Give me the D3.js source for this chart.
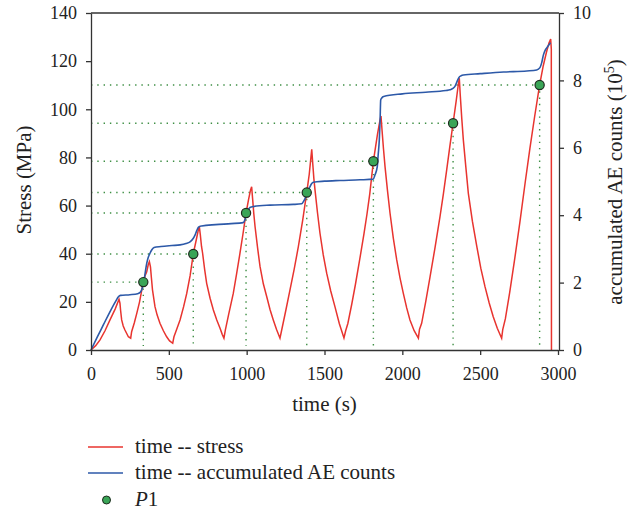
<!DOCTYPE html>
<html>
<head>
<meta charset="utf-8">
<script src="https://cdn.jsdelivr.net/npm/d3@7"></script>
<style>
  body { margin: 0; background: #fff; }
  svg { display: block; font-family: "Liberation Serif", "Times New Roman", serif; }
  .axis path, .axis line { stroke: #333; stroke-width: 1.3; }
  .axis text { font-family: "Liberation Serif", serif; font-size: 18px; fill: #222; }
  .label { font-family: "Liberation Serif", serif; font-size: 21px; fill: #222; }
</style>
</head>
<body>
<div id="chart"></div>
<script>
      var w = 634;
      var h = 513;

      // time (s) and stress (MPa) of the red curve
      var stressTime = [0,30,58,90,122,155,180,186,190,197,207,218,240,255,261,278,294,312,326,336,348,358,368,375,382,388,395,411,425,443,465,486,505,525,533,
        550,572,595,615,637,657,677,690,696,702,710,717,730,743,765,786,808,829,843,854,863,
        885,914,935,957,977,996,1012,1025,1032,1038,1046,1054,1070,1086,1107,1129,1150,1171,1192,1214,1225,
        1250,1278,1305,1332,1360,1386,1402,1412,1418,1425,1432,1439,1455,1471,1492,1514,1540,1567,1595,1625,1636,
        1650,1675,1698,1726,1754,1773,1791,1814,1840,1855,1863,1870,1879,1889,1905,1921,1942,1964,1985,2006,2028,2049,2076,2103,2110,
        2124,2150,2178,2210,2242,2264,2285,2305,2326,2346,2360,2366,2372,2382,2392,2408,2424,2450,2478,2504,2531,2558,2584,2610,2638,2645,
        2662,2690,2720,2755,2790,2820,2850,2882,2905,2925,2942,2953,2957,2958];
      var stressValue = [0,1.8,4.2,8,12.5,17,21.1,19.5,16.5,12.5,10,8.3,5.5,4.9,7.6,11.2,15.2,20,24.9,28.2,31,32.5,35.5,36.7,34.5,30,25,18,14.5,11.1,8,5.5,3.8,2.8,5.5,
        8.5,12.5,18,23.5,31,39.9,46,50,51.2,48,43,40.2,33.5,27.7,21.5,16.6,12.5,9,6.5,4.9,8.3,
        15,23.5,31.5,40.2,48.5,56.9,62.5,66.5,67.8,63,56.5,51.2,42.5,34.6,27.5,22.1,16.8,12.5,8.5,4.9,8.3,
        16,24.9,33.5,42.9,54,65.5,73,79.5,83.4,77,71,66.5,57,48.5,39.5,31.9,24.5,18,11,5,8,
        11,19,27,37.5,48.5,56.5,65,78.4,89.5,95,97.2,91,83.5,76.1,66,56.8,46.5,37.4,30,23.6,17.5,12.5,8,4.9,8.5,
        11.1,20,30.4,42.5,55.4,65,74.8,84.5,94.2,103.5,110.5,112.9,106,96,87.2,76,65.1,53.5,43.2,34,26.3,19.5,13.8,9,4.9,8.5,
        13,24,37,53,70,84,97,110.1,118,123.5,127.5,129.2,125,0];

      // time (s) and accumulated AE counts (10^5) of the blue curve
      var aeTime = [0,40,80,120,160,176,190,250,300,318,330,340,350,358,368,379,392,405,450,520,572,610,636,655,668,680,690,700,711,800,900,978,990,1000,1010,1021,1044,1150,1300,1353,1370,1386,1397,1407,1418,1428,1500,1600,1728,1813,1824,1839,1845,1852,1857,1861,1868,1880,2000,2150,2280,2306,2325,2338,2350,2364,2378,2392,2500,2650,2800,2863,2884,2895,2906,2918,2930,2942,2952];
      var aeCount = [0,0.38,0.75,1.12,1.46,1.58,1.62,1.64,1.67,1.72,1.85,2.05,2.35,2.57,2.75,2.87,2.98,3.04,3.07,3.1,3.12,3.16,3.21,3.3,3.41,3.55,3.64,3.67,3.68,3.72,3.75,3.78,3.88,4.06,4.16,4.23,4.26,4.3,4.32,4.34,4.45,4.6,4.75,4.85,4.94,4.98,5.01,5.03,5.05,5.07,5.19,5.44,5.8,6.23,6.8,7.42,7.48,7.52,7.6,7.65,7.7,7.72,7.76,7.82,7.95,8.09,8.14,8.16,8.2,8.25,8.28,8.31,8.38,8.52,8.75,8.9,8.98,9.06,9.12];

      // P1 points
      var p1Time = [336, 657, 996, 1386, 1814, 2326, 2882];
      var p1Stress = [28.2, 39.9, 56.9, 65.4, 78.4, 94.2, 110.1];

      var timeTicks = [0, 500, 1000, 1500, 2000, 2500, 3000];
      var stressTicks = [0, 20, 40, 60, 80, 100, 120, 140];
      var aeTicks = [0, 2, 4, 6, 8, 10];

      var redData = stressTime.map(function(t, i) { return {t: t, v: stressValue[i]}; });
      var blueData = aeTime.map(function(t, i) { return {t: t, v: aeCount[i]}; });
      var p1Data = p1Time.map(function(t, i) { return {t: t, v: p1Stress[i]}; });

      var padLeft = 91, padRight = 558, padTop = 13, padBottom = 350;

      var xScale = d3.scaleLinear().domain([0, 3000]).range([padLeft, padRight]);
      var yScale = d3.scaleLinear().domain([0, 140]).range([padBottom, padTop]);
      var aScale = d3.scaleLinear().domain([0, 10]).range([padBottom, padTop]);

      var svg = d3.select("#chart")
            .append("svg")
            .attr("width", w)
            .attr("height", h);

      // top frame
      svg.append("line")
        .attr("x1", padLeft).attr("x2", padRight + 1)
        .attr("y1", padTop).attr("y2", padTop)
        .style("stroke", "#333").style("stroke-width", 1.3);

      // dotted guides for P1
      var guideColor = "#3f8f45";
      svg.selectAll(".hguide")
        .data(p1Data)
        .enter().append("line")
        .attr("class", "hguide")
        .attr("x1", padLeft)
        .attr("x2", function(d) { return xScale(d.t); })
        .attr("y1", function(d) { return yScale(d.v); })
        .attr("y2", function(d) { return yScale(d.v); })
        .style("stroke", guideColor)
        .style("stroke-width", 1.4)
        .style("stroke-dasharray", "1.4,4.9");

      svg.selectAll(".vguide")
        .data(p1Data)
        .enter().append("line")
        .attr("class", "vguide")
        .attr("x1", function(d) { return xScale(d.t); })
        .attr("x2", function(d) { return xScale(d.t); })
        .attr("y1", function(d) { return yScale(d.v); })
        .attr("y2", padBottom - 4)
        .style("stroke", guideColor)
        .style("stroke-width", 1.4)
        .style("stroke-dasharray", "1.4,4.9");

      var redLine = d3.line()
        .x(function(d) { return xScale(d.t); })
        .y(function(d) { return yScale(d.v); });

      var blueLine = d3.line()
        .x(function(d) { return xScale(d.t); })
        .y(function(d) { return aScale(d.v); })
        .curve(d3.curveMonotoneX);

      svg.append("path")
        .datum(redData)
        .attr("d", redLine)
        .style("fill", "none")
        .style("stroke", "#e8342f")
        .style("stroke-width", 1.5);

      svg.append("path")
        .datum(blueData)
        .attr("d", blueLine)
        .style("fill", "none")
        .style("stroke", "#2d59a8")
        .style("stroke-width", 1.6);

      svg.selectAll(".p1")
        .data(p1Data)
        .enter().append("circle")
        .attr("class", "p1")
        .attr("cx", function(d) { return xScale(d.t); })
        .attr("cy", function(d) { return yScale(d.v); })
        .attr("r", 4.6)
        .style("fill", "#3aa557")
        .style("stroke", "#1e2a1e")
        .style("stroke-width", 1.2);

      //Create X axis
      svg.append("g")
        .attr("class", "axis")
        .attr("transform", "translate(0," + padBottom + ")")
        .call(d3.axisBottom(xScale).tickValues(timeTicks).tickFormat(d3.format("d"))
          .tickSize(5).tickPadding(12).tickSizeOuter(0));

      //Create Y axes
      svg.append("g")
        .attr("class", "axis")
        .attr("transform", "translate(" + padLeft + ",0)")
        .call(d3.axisLeft(yScale).tickValues(stressTicks).tickFormat(d3.format("d"))
          .tickSize(5).tickPadding(9).tickSizeOuter(0));

      svg.append("g")
        .attr("class", "axis")
        .attr("transform", "translate(" + (padRight + 1) + ",0)")
        .call(d3.axisRight(aScale).tickValues(aeTicks).tickFormat(d3.format("d"))
          .tickSize(5).tickPadding(9).tickSizeOuter(0));

      svg.selectAll(".axis").attr("font-family", null).attr("font-size", null);

      // axis titles
      svg.append("text")
        .attr("class", "label")
        .attr("x", (padLeft + padRight) / 2)
        .attr("y", 411)
        .attr("text-anchor", "middle")
        .text("time (s)");

      svg.append("text")
        .attr("class", "label")
        .attr("transform", "translate(31,180) rotate(-90)")
        .attr("text-anchor", "middle")
        .text("Stress (MPa)");

      var rt = svg.append("text")
        .attr("class", "label")
        .attr("transform", "translate(622,182) rotate(-90)")
        .attr("text-anchor", "middle");
      rt.append("tspan").text("accumulated AE counts (10");
      rt.append("tspan").attr("dy", -8).style("font-size", "14px").text("5");
      rt.append("tspan").attr("dy", 8).text(")");

      // legend
      var legendItems = [
        {name: "time -- stress", color: "#e8342f", y: 447},
        {name: "time -- accumulated AE counts", color: "#2d59a8", y: 473}
      ];
      var legend = svg.selectAll(".legend")
        .data(legendItems)
        .enter().append("g")
        .attr("class", "legend")
        .attr("transform", function(d) { return "translate(0," + d.y + ")"; });

      legend.append("line")
        .attr("x1", 88).attr("x2", 123)
        .attr("y1", 0).attr("y2", 0)
        .style("stroke", function(d) { return d.color; })
        .style("stroke-width", 1.5);

      legend.append("text")
        .attr("class", "label")
        .attr("x", 135)
        .attr("y", 6)
        .text(function(d) { return d.name; });

      svg.append("circle")
        .attr("cx", 106.5).attr("cy", 500)
        .attr("r", 4)
        .style("fill", "#3aa557")
        .style("stroke", "#1e2a1e")
        .style("stroke-width", 1);

      var p1Label = svg.append("text")
        .attr("class", "label")
        .attr("x", 135)
        .attr("y", 506);
      p1Label.append("tspan").style("font-style", "italic").text("P");
      p1Label.append("tspan").text("1");
</script>
</body>
</html>
